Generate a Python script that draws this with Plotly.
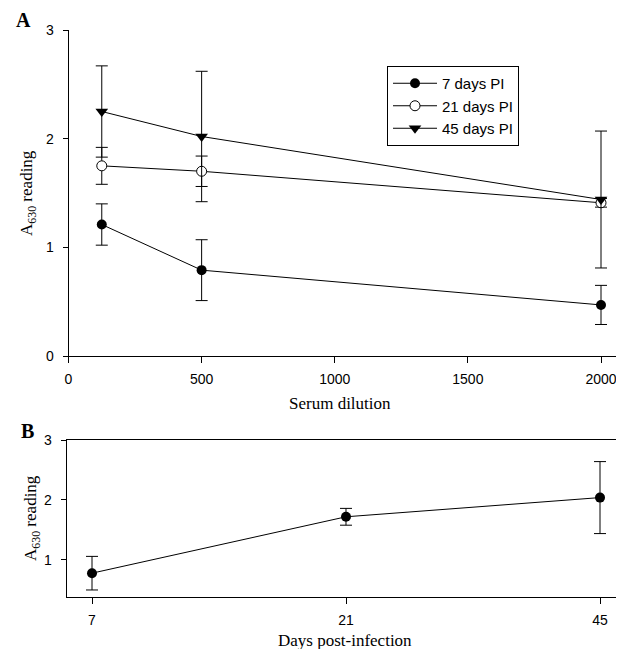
import plotly.graph_objects as go

# the page body has an 8 px margin; the figure is drawn inside it
OFF = 8
W, H = 624 - OFF, 649 - OFF

# ---- data ----
dilution = [125, 500, 2000]
d7_mean = [1.21, 0.79, 0.47]
d7_err = [0.19, 0.28, 0.18]
d21_mean = [1.75, 1.70, 1.41]
d21_err = [0.17, 0.14, 0.04]
d45_mean = [2.25, 2.02, 1.44]
d45_err = [0.42, 0.60, 0.63]

days = ["7", "21", "45"]
day_mean = [0.78, 1.72, 2.04]
day_err = [0.28, 0.14, 0.60]

series_names = ["7 days PI", "21 days PI", "45 days PI"]
xticks_a = [0, 500, 1000, 1500, 2000]
yticks_a = [0, 1, 2, 3]
yticks_b = [1, 2, 3]

SANS = "Liberation Sans, Arial, sans-serif"
SERIF = "Liberation Serif, Times New Roman, serif"


def px_x(p):
    return (p - OFF) / W


def px_y(p):
    return 1 - (p - OFF) / H


fig = go.Figure()

err_style = dict(type="data", visible=True, color="black", thickness=1, width=6)

fig.add_trace(go.Scatter(
    x=dilution, y=d7_mean, name=series_names[0], mode="lines+markers",
    line=dict(color="black", width=1), legendrank=1,
    marker=dict(symbol="circle", size=10, color="black"),
    error_y=dict(array=d7_err, **err_style), xaxis="x", yaxis="y"))
fig.add_trace(go.Scatter(
    x=dilution, y=d21_mean, name=series_names[1], mode="lines+markers",
    line=dict(color="black", width=1), legendrank=2,
    marker=dict(symbol="circle", size=10, color="white",
                line=dict(color="black", width=1)),
    error_y=dict(array=d21_err, **err_style), xaxis="x", yaxis="y"))
fig.add_trace(go.Scatter(
    x=dilution, y=d45_mean, name=series_names[2], mode="lines+markers",
    line=dict(color="black", width=1), legendrank=3,
    marker=dict(symbol="triangle-down", size=11, color="black"),
    error_y=dict(array=d45_err, **err_style), xaxis="x", yaxis="y"))

fig.add_trace(go.Scatter(
    x=days, y=day_mean, mode="lines+markers", showlegend=False,
    line=dict(color="black", width=1),
    marker=dict(symbol="circle", size=10, color="black"),
    error_y=dict(array=day_err, **err_style), xaxis="x2", yaxis="y2"))

axis_common = dict(
    showgrid=False, zeroline=False, showline=True, linecolor="black",
    linewidth=1, ticks="outside", tickcolor="black",
    tickfont=dict(family=SANS, size=14, color="black"), automargin=False)
x_common = dict(ticklen=6, ticklabelstandoff=4, **axis_common)
y_common = dict(ticklen=5, ticklabelstandoff=6, **axis_common)

# pixel geometry (screen pixels)
a_left, a_top, a_bottom = 68.5, 30, 356
ppx_a = (601 - 68.5) / 2000
b_left, b_top, b_bottom = 66.7, 440, 597
ppx_b = (600 - 92) / 2
RIGHT = 624

fig.update_layout(
    width=W, height=H,
    margin=dict(l=0, r=0, t=0, b=0),
    paper_bgcolor="white", plot_bgcolor="white",
    xaxis=dict(domain=[px_x(a_left), 1.0], range=[0, (RIGHT - a_left) / ppx_a],
               tickvals=xticks_a, anchor="y", **x_common),
    yaxis=dict(domain=[px_y(a_bottom), px_y(a_top)], range=[0, 3],
               tickvals=yticks_a, anchor="x", **y_common),
    xaxis2=dict(domain=[px_x(b_left), 1.0], type="category",
                range=[-(92 - b_left) / ppx_b, 2 + (RIGHT - 600) / ppx_b],
                anchor="y2", mirror=True, **x_common),
    yaxis2=dict(domain=[px_y(b_bottom), px_y(b_top)], range=[0.383, 3],
                tickvals=yticks_b, anchor="x2", mirror=True, **y_common),
    legend=dict(x=px_x(387), y=px_y(66), xanchor="left", yanchor="top",
                bgcolor="white", bordercolor="black", borderwidth=1,
                font=dict(family=SANS, size=15, color="black"),
                traceorder="normal", tracegroupgap=0, itemwidth=44),
    showlegend=True,
)

title_font = dict(family=SERIF, size=17, color="black")
ann = [
    dict(text="<b>A</b>", x=px_x(23), y=px_y(20), font=dict(family=SERIF, size=20, color="black")),
    dict(text="<b>B</b>", x=px_x(28), y=px_y(431), font=dict(family=SERIF, size=20, color="black")),
    dict(text="Serum dilution", x=px_x(340), y=px_y(403), font=title_font),
    dict(text="Days post-infection", x=px_x(345), y=px_y(640), font=title_font),
    dict(text="A<sub>630</sub> reading", x=px_x(28), y=px_y(193), font=title_font, textangle=-90),
    dict(text="A<sub>630</sub> reading", x=px_x(32), y=px_y(518), font=title_font, textangle=-90),
]
for a in ann:
    fig.add_annotation(xref="paper", yref="paper", showarrow=False,
                       xanchor="center", yanchor="middle", **a)

fig.write_html("out.html")
